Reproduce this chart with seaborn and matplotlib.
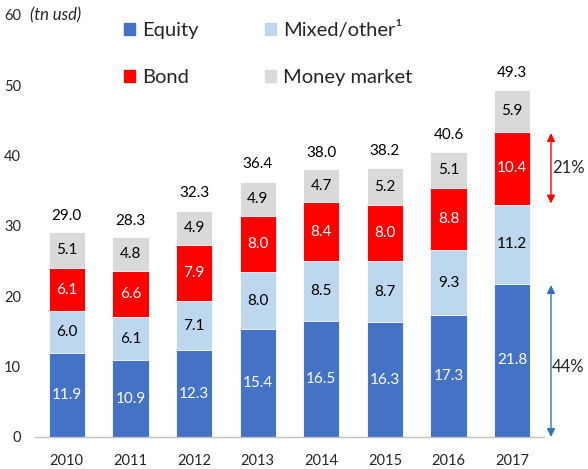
import numpy as np
import pandas as pd
import matplotlib
matplotlib.use("Agg")
import matplotlib.pyplot as plt
import matplotlib.patches as mpatches
import seaborn as sns

years = ["2010", "2011", "2012", "2013", "2014", "2015", "2016", "2017"]
equity = [11.9, 10.9, 12.3, 15.4, 16.5, 16.3, 17.3, 21.8]
mixed = [6.0, 6.1, 7.1, 8.0, 8.5, 8.7, 9.3, 11.2]
bond = [6.1, 6.6, 7.9, 8.0, 8.4, 8.0, 8.8, 10.4]
money = [5.1, 4.8, 4.9, 4.9, 4.7, 5.2, 5.1, 5.9]
totals = [29.0, 28.3, 32.3, 36.4, 38.0, 38.2, 40.6, 49.3]

series = ["Equity", "Mixed/other\u00b9", "Bond", "Money market"]
colors = ["#4472C4", "#BDD7EE", "#FF0000", "#D9D9D9"]
text_colors = ["white", "black", "white", "black"]

sns.set_theme(style="white")
plt.rcParams["font.family"] = ["Lato", "DejaVu Sans"]

df = pd.DataFrame({"year": years, "Equity": equity, "Mixed/other\u00b9": mixed,
                   "Bond": bond, "Money market": money})
cum = df[series].cumsum(axis=1)

fig = plt.figure(figsize=(5.88, 4.69), dpi=100)
ax = fig.add_axes([35 / 588, 1 - 437 / 469, (544 - 35) / 588, (437 - 15) / 469])

# stacked bars: draw cumulative heights from the top layer down
for name, color in reversed(list(zip(series, colors))):
    sns.barplot(x=df["year"], y=cum[name], color=color, width=0.57,
                edgecolor="white", linewidth=0.6, saturation=1, ax=ax)

# segment labels
for i in range(len(years)):
    for name, tc in zip(series, text_colors):
        val = df[name][i]
        mid = cum[name][i] - val / 2
        ax.text(i, mid, f"{val:.1f}", ha="center", va="center",
                color=tc, fontsize=11)
    ax.text(i, totals[i] + 2.4, f"{totals[i]:.1f}", ha="center", va="center",
            color="black", fontsize=11)

ax.set_xlim(-0.5, 7.5)
ax.set_ylim(0, 60)
ax.set_yticks(range(0, 61, 10))
ax.set_xlabel("")
ax.set_ylabel("")
ax.tick_params(axis="y", labelsize=10.5, pad=10, length=0)
ax.tick_params(axis="x", labelsize=10.5, pad=12, length=0)
for s in ["top", "right", "left"]:
    ax.spines[s].set_visible(False)
ax.spines["bottom"].set_color("#BFBFBF")
ax.spines["bottom"].set_linewidth(1)

fig.text(30 / 588, 1 - 15 / 469, "(tn usd)", style="italic", fontsize=12,
         va="center", ha="left")

# legend
handles = [mpatches.Patch(color=c, label=s) for s, c in zip(series, colors)]
handles = [handles[0], handles[2], handles[1], handles[3]]
fig.legend(handles=handles, ncol=2, loc="upper left",
           bbox_to_anchor=(106 / 588, 0.994), frameon=False, fontsize=14.5,
           handlelength=0.55, handleheight=0.55, handletextpad=0.35,
           labelspacing=1.5, columnspacing=3.3)

# share arrows
ax_x = 7.61
ax.annotate("", xy=(ax_x, 33.2), xytext=(ax_x, 43.2),
            arrowprops=dict(arrowstyle="<|-|>", color="#FF0000", lw=1,
                            mutation_scale=12, shrinkA=0, shrinkB=0),
            annotation_clip=False)
ax.annotate("", xy=(ax_x, 0), xytext=(ax_x, 21.6),
            arrowprops=dict(arrowstyle="<|-|>", color="#2E75B6", lw=1,
                            mutation_scale=12, shrinkA=0, shrinkB=0),
            annotation_clip=False)
ax.text(8.14, 38.3, "21%", fontsize=12, va="center", ha="right", clip_on=False)
ax.text(8.14, 10.0, "44%", fontsize=12, va="center", ha="right", clip_on=False)

fig.savefig("out.png", dpi=100)
